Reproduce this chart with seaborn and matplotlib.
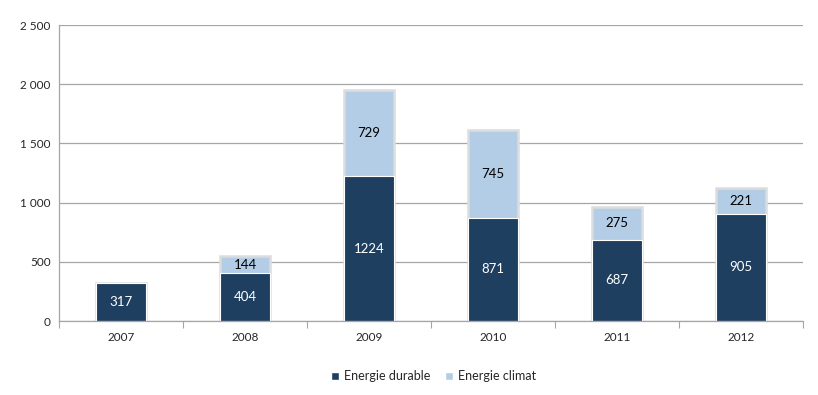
import matplotlib
matplotlib.use('Agg')
import matplotlib.pyplot as plt
import seaborn as sns
import pandas as pd
from matplotlib.ticker import FuncFormatter
from matplotlib.patches import Patch

# données
years = ['2007', '2008', '2009', '2010', '2011', '2012']
durable = [317, 404, 1224, 871, 687, 905]
climat = [0, 144, 729, 745, 275, 221]

dark = '#1f3f60'
light = '#b3cde6'

df = pd.DataFrame({'Year': years, 'Energie durable': durable, 'Energie climat': climat})
df['Total'] = df['Energie durable'] + df['Energie climat']

sns.set_style('white')
plt.rcParams['font.family'] = ['Lato', 'DejaVu Sans']

fig = plt.figure(figsize=(8.18, 3.95), dpi=100)
ax = fig.add_axes([0.0721, 0.1873, 0.9096, 0.7494])

ax.set_axisbelow(True)
ax.yaxis.grid(True, color='#a6a6a6', linewidth=0.9)

sns.barplot(data=df, x='Year', y='Total', color=light, width=0.4, saturation=1,
            edgecolor='#dcdcdc', linewidth=1.8, ax=ax)
sns.barplot(data=df, x='Year', y='Energie durable', color=dark, width=0.4, saturation=1,
            edgecolor='white', linewidth=0.8, ax=ax)

# étiquettes
for i, (d, c) in enumerate(zip(durable, climat)):
    ax.text(i, d / 2, str(d), ha='center', va='center', color='white', fontsize=9.5)
    if c > 0:
        ax.text(i, d + c / 2, str(c), ha='center', va='center', color='black', fontsize=9.5)

ax.set_ylim(0, 2500)
ax.set_xlim(-0.5, 5.5)
ax.set_yticks(range(0, 2501, 500))
ax.yaxis.set_major_formatter(FuncFormatter(lambda v, p: f'{int(v):,}'.replace(',', ' ')))
ax.set_xlabel('')
ax.set_ylabel('')

ax.set_xticks([i - 0.5 for i in range(7)], minor=False)
ax.set_xticklabels([])
ax.set_xticks(range(6), minor=True)
ax.set_xticklabels(years, minor=True)
ax.tick_params(axis='x', which='major', length=5, color='#a6a6a6', direction='out', bottom=True)
ax.tick_params(axis='x', which='minor', length=0, labelsize=8.5, pad=8)
ax.tick_params(axis='y', length=0, labelsize=8.5, pad=6)

for s in ['top', 'right']:
    ax.spines[s].set_visible(False)
for s in ['left', 'bottom']:
    ax.spines[s].set_color('#a6a6a6')
    ax.spines[s].set_linewidth(0.9)

handles = [Patch(facecolor=dark, label='Energie durable'), Patch(facecolor=light, label='Energie climat')]
fig.legend(handles=handles, loc='center', bbox_to_anchor=(0.53, 0.048), ncol=2, frameon=False,
           fontsize=9, handlelength=0.6, handleheight=0.6, handletextpad=0.4, columnspacing=1.2)

fig.savefig('out.png', dpi=100)
